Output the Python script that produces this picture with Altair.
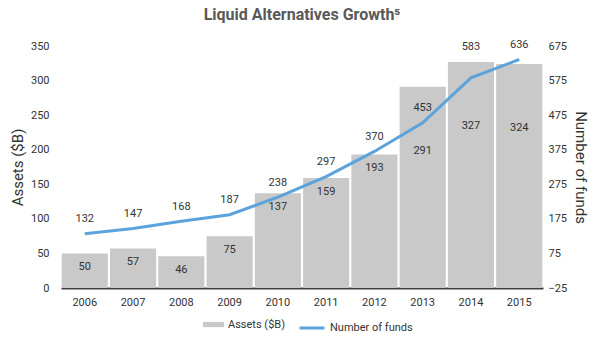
import altair as alt
import pandas as pd

years = ["2006", "2007", "2008", "2009", "2010", "2011", "2012", "2013", "2014", "2015"]
assets = [50, 57, 46, 75, 137, 159, 193, 291, 327, 324]
funds = [132, 147, 168, 187, 238, 297, 370, 453, 583, 636]

df = pd.DataFrame({"year": years, "assets": assets, "funds": funds})

FONT = "Roboto"
TXT = "#333333"
BAR = "#c9c9c9"
LINE = "#5ba3dc"

x = alt.X("year:N", title=None,
          scale=alt.Scale(paddingInner=0.045, paddingOuter=0.015),
          axis=alt.Axis(labelAngle=0, ticks=False, domainColor="#404040", domainWidth=2,
                        labelFont=FONT, labelFontSize=11, labelColor=TXT, labelPadding=8))

left_axis = alt.Axis(values=list(range(0, 351, 50)), grid=False, ticks=False, domain=False,
                     labelFont=FONT, labelFontSize=11, labelColor=TXT, labelPadding=12,
                     titleFont=FONT, titleFontSize=15, titleFontWeight="normal",
                     titleColor=TXT, titlePadding=5)
left_scale = alt.Scale(domain=[0, 350], nice=False)

base = alt.Chart(df)

bars = base.mark_bar().encode(
    x=x,
    y=alt.Y("assets:Q", title="Assets ($B)", scale=left_scale, axis=left_axis),
    fill=alt.Fill("k:N", scale=alt.Scale(domain=["Assets ($B)"], range=[BAR]),
                  legend=alt.Legend(title=None, orient="none", legendX=142, legendY=268,
                                    symbolType="M-1,-0.25H1V0.25H-1Z",
                                    symbolSize=441, symbolStrokeWidth=0, labelOffset=4,
                                    labelFont=FONT, labelFontSize=11, labelColor=TXT)),
).transform_calculate(k="'Assets ($B)'")

bar_labels = base.mark_text(font=FONT, fontSize=11, color=TXT, baseline="middle").transform_calculate(
    lab="datum.assets > 250 ? datum.assets - 93 : datum.assets - 20"
).encode(
    x=x,
    y=alt.Y("lab:Q", title="Assets ($B)", scale=left_scale, axis=left_axis),
    text=alt.Text("assets:Q"),
)

left = alt.layer(bars, bar_labels)

right_scale = alt.Scale(domain=[-25, 675], nice=False, zero=False)
right_axis = alt.Axis(orient="right", values=list(range(-25, 676, 100)), grid=False, ticks=False,
                      domain=False, labelFont=FONT, labelFontSize=11, labelColor=TXT,
                      labelPadding=5, titleFont=FONT, titleFontSize=15, titleFontWeight="normal",
                      titleColor=TXT, titleAngle=90, titlePadding=6)

line = base.mark_line(strokeWidth=3).encode(
    x=x,
    y=alt.Y("funds:Q", title="Number of funds", scale=right_scale, axis=right_axis),
    stroke=alt.Stroke("k:N", scale=alt.Scale(domain=["Number of funds"], range=[LINE]),
                      legend=alt.Legend(title=None, orient="none", legendX=237, legendY=268,
                                        symbolStrokeWidth=3, symbolSize=625, labelOffset=4,
                                        labelFont=FONT, labelFontSize=11, labelColor=TXT)),
).transform_calculate(k="'Number of funds'")

line_labels = base.mark_text(font=FONT, fontSize=11, color=TXT, baseline="middle").transform_calculate(
    lab2="datum.year == '2014' ? datum.funds + 90 : datum.funds + 42"
).encode(
    x=x,
    y=alt.Y("lab2:Q", title="Number of funds", scale=right_scale, axis=right_axis),
    text=alt.Text("funds:Q"),
)

right = alt.layer(line, line_labels)

chart = alt.layer(left, right).resolve_scale(
    y="independent", fill="independent", stroke="independent"
).properties(
    width=482, height=242,
    autosize=alt.AutoSizeParams(type="none"),
    padding={"left": 61, "right": 57, "top": 46, "bottom": 59},
    title=alt.Title("Liquid Alternatives Growth⁵", font=FONT, fontSize=16, fontWeight="bold",
                    color="#595959", offset=16, anchor="middle"),
).configure_view(stroke=None)

chart.save("out.html", embed_options={"renderer": "svg", "actions": False})
